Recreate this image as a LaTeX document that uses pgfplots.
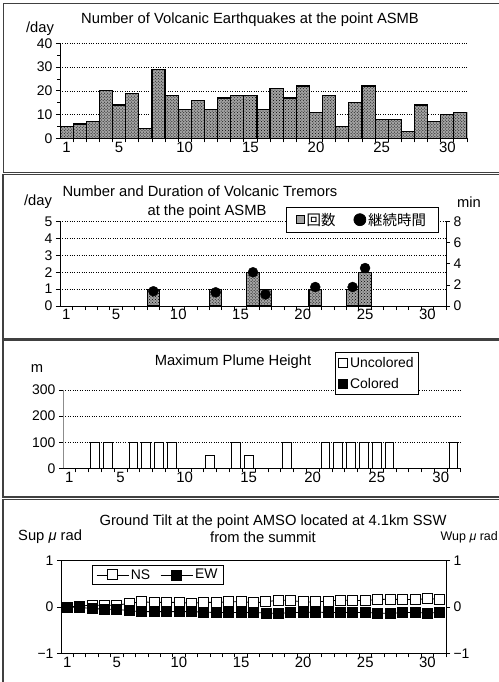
\documentclass[border=0pt]{standalone}
\usepackage{pgfplots}
\usepackage{pgfplotstable}
\pgfplotsset{compat=1.18}
\usepackage{fontspec}
\setmainfont{Liberation Sans}
\newfontfamily\cjk{Noto Sans CJK JP}
\usetikzlibrary{patterns}

% daily counts of volcanic earthquakes
\pgfplotstableread{
day n
1 5
2 6
3 7
4 20
5 14
6 19
7 4
8 29
9 18
10 12
11 16
12 12
13 17
14 18
15 18
16 12
17 21
18 17
19 22
20 11
21 18
22 5
23 15
24 22
25 8
26 8
27 3
28 14
29 7
30 10
31 11
}\quakes

% tremors: number and duration (min)
\pgfplotstableread{
day n dur
8 1 1.4
13 1 1.3
16 2 3.2
17 1 1.1
21 1 1.8
24 1 1.8
25 2 3.6
}\tremors

% plume height (uncolored)
\pgfplotstableread{
day h
3 100
4 100
6 100
7 100
8 100
9 100
12 50
14 100
15 50
18 100
21 100
22 100
23 100
24 100
25 100
26 100
31 100
}\plume

% ground tilt
\pgfplotstableread{
day ns ew
1 0.00 0.00
2 0.02 -0.01
3 0.04 -0.03
4 0.04 -0.05
5 0.04 -0.05
6 0.08 -0.08
7 0.11 -0.10
8 0.10 -0.10
9 0.10 -0.10
10 0.10 -0.10
11 0.08 -0.10
12 0.10 -0.11
13 0.10 -0.12
14 0.11 -0.12
15 0.12 -0.12
16 0.09 -0.12
17 0.11 -0.13
18 0.15 -0.14
19 0.14 -0.12
20 0.11 -0.12
21 0.11 -0.11
22 0.13 -0.12
23 0.15 -0.12
24 0.14 -0.12
25 0.14 -0.12
26 0.16 -0.13
27 0.17 -0.14
28 0.16 -0.12
29 0.16 -0.12
30 0.18 -0.13
31 0.17 -0.12
}\tilt

\pgfplotsset{
  dayaxis/.style={
    scale only axis, anchor=south west,
    xmin=0.5, xmax=31.5,
    /pgf/number format/assume math mode=true,
    tick label style={font=\fontsize{14}{16}\selectfont},
    xtick={1.5,2.5,...,31.5},
    xticklabels={},
    extra x ticks={1,5,10,15,20,25,30},
    extra x tick labels={1,5,10,15,20,25,30},
    extra x tick style={major tick length=0pt},
    x tick label style={font=\fontsize{15}{17}\selectfont},
    tick align=outside, major tick length=4bp, minor tick length=2.5bp,
    tick style={black, line width=0.8pt},
    axis line style={line width=0.9pt},
    grid style={dotted, black, line width=0.6pt},
    legend style={font=\fontsize{14}{16}\selectfont, draw=black, line width=0.7pt,
      inner sep=1.5pt},
  },
  quakebar/.style={draw=black, line width=1.2pt, fill=gray!72,
    postaction={pattern=crosshatch dots, pattern color=black}},
}

\begin{document}
\begin{tikzpicture}
\useasboundingbox (0,0) rectangle (499bp,-682bp);

% panel frames
\draw[black!75, line width=0.8pt] (3bp,-3bp) rectangle (530bp,-172.5bp);
\draw[black!75, line width=1.2pt] (3bp,-174.3bp) rectangle (530bp,-339bp);
\draw[black!75, line width=1.2pt] (3bp,-340.7bp) rectangle (530bp,-497bp);
\draw[black!75, line width=1.2pt] (3bp,-499.3bp) rectangle (530bp,-690bp);

\tikzset{lbl/.style={font=\fontsize{14.8}{17}\selectfont, inner sep=0pt}}

% ---- panel 1
\node[lbl] at (250bp,-20bp) {Number of Volcanic Earthquakes at the point ASMB};
\node[lbl] at (40bp,-29bp) {/day};
\begin{axis}[dayaxis, at={(60bp,-138.3bp)}, width=407bp, height=95bp,
  ymin=0, ymax=40, ytick={0,10,...,40}, minor ytick={5,15,25,35},
  axis x line*=bottom, axis y line*=left, ymajorgrids,
  ybar, bar width=1]
\addplot[quakebar] table[x=day, y=n] {\quakes};
\end{axis}

% ---- panel 2
\node[lbl] at (200bp,-191bp) {Number and Duration of Volcanic Tremors};
\node[lbl] at (207bp,-212bp) {at the point ASMB};
\node[lbl] at (38bp,-202bp) {/day};
\node[lbl] at (469bp,-202bp) {min};
\begin{axis}[dayaxis, at={(60bp,-306bp)}, width=386bp, height=84.3bp,
  ymin=0, ymax=5, ytick={0,1,...,5},
  axis x line*=bottom, axis y line*=left, ymajorgrids,
  ybar, bar width=1]
\addplot[quakebar] table[x=day, y=n] {\tremors};
\end{axis}
\begin{axis}[scale only axis, anchor=south west, at={(60bp,-306bp)},
  width=386bp, height=84.3bp, xmin=0.5, xmax=31.5, ymin=0, ymax=8,
  ytick={0,2,...,8}, axis y line*=right, axis x line=none,
  /pgf/number format/assume math mode=true,
  tick label style={font=\fontsize{14}{16}\selectfont},
  tick align=outside, major tick length=4bp,
  tick style={black, line width=0.8pt}, axis line style={line width=0.9pt},
  legend columns=2,
  legend style={at={(0.585,1.174)}, anchor=north west,
    font=\fontsize{14.5}{17}\selectfont, draw=black, line width=0.7pt,
    inner xsep=10pt, inner ysep=3.5pt,
    /tikz/every even column/.append style={column sep=16pt}},
  legend cell align=left]
\addlegendimage{legend image code/.code={
  \draw[black, line width=0.6pt, fill=gray!72] (0bp,-4bp) rectangle (8bp,4bp);}}
\addlegendentry{\cjk 回数}
\addplot[only marks, mark=*, mark size=5bp, black,
  legend image code/.code={\fill[black] (6bp,0bp) circle (6bp);}]
  table[x=day, y=dur] {\tremors};
\addlegendentry{\cjk 継続時間}
\end{axis}

% ---- panel 3
\node[lbl] at (233bp,-362bp) {Maximum Plume Height};
\node[lbl] at (37bp,-369bp) {m};
\begin{axis}[dayaxis, at={(63bp,-468.3bp)}, width=397bp, height=78.3bp,
  ymin=0, ymax=300, ytick={0,100,200,300},
  axis x line*=bottom, axis y line*=left, ymajorgrids,
  y axis line style={black!45},
  ybar, bar width=0.68,
  legend style={at={(0.685,1.485)}, anchor=north west, inner xsep=3pt,
    inner ysep=3pt, row sep=5pt},
  legend cell align=left]
\addplot[draw=black, line width=1pt, fill=white, bar shift=0pt,
  legend image code/.code={
  \draw[black, line width=0.9pt, fill=white] (0bp,-4.5bp) rectangle (9bp,4.5bp);}]
  table[x=day, y=h] {\plume};
\addlegendentry{Uncolored}
\addlegendimage{legend image code/.code={
  \draw[black, line width=0.9pt, fill=black] (0bp,-4.5bp) rectangle (9bp,4.5bp);}}
\addlegendentry{Colored}
\end{axis}

% ---- panel 4
\node[lbl] at (273bp,-522bp) {Ground Tilt at the point AMSO located at 4.1km SSW};
\node[lbl] at (263bp,-537bp) {from the summit};
\node[lbl, anchor=west] at (18bp,-537bp) {Sup \textit{μ} rad};
\node[lbl, anchor=east, font=\fontsize{12.5}{15}\selectfont] at (498bp,-537bp) {Wup \textit{μ} rad};
\begin{axis}[dayaxis, at={(61bp,-653.3bp)}, width=385bp, height=92.6bp,
  ymin=-1, ymax=1, ytick={-1,0,1}, yticklabels={−1,0,1},
  xtick pos=left, ytick pos=both,
  legend columns=2,
  legend style={at={(0.08,0.954)}, anchor=north west, inner xsep=4pt,
    inner ysep=2pt, /tikz/every even column/.append style={column sep=8pt}}]
\addplot[black, line width=0.8pt, mark=square*, mark size=5bp,
  mark options={fill=white, line width=0.9pt},
  legend image code/.code={
    \draw[black, line width=0.8pt] (0bp,0bp) -- (32bp,0bp);
    \draw[black, line width=0.9pt, fill=white] (11bp,-5bp) rectangle (21bp,5bp);}]
  table[x=day, y=ns] {\tilt};
\addlegendentry{NS}
\addplot[black, line width=0.8pt, mark=square*, mark size=5bp,
  mark options={fill=black},
  legend image code/.code={
    \draw[black, line width=0.8pt] (0bp,0bp) -- (32bp,0bp);
    \fill[black] (11bp,-5bp) rectangle (21bp,5bp);}]
  table[x=day, y=ew] {\tilt};
\addlegendentry{EW}
\end{axis}
\begin{axis}[scale only axis, anchor=south west, at={(61bp,-653.3bp)},
  width=385bp, height=92.6bp, xmin=0.5, xmax=31.5, ymin=-1, ymax=1,
  ytick={-1,0,1}, yticklabels={−1,0,1},
  axis y line*=right, axis x line=none,
  tick label style={font=\fontsize{14}{16}\selectfont},
  tick align=outside, major tick length=4bp,
  tick style={black, line width=0.8pt}, axis line style={line width=0.9pt}]
\addplot[draw=none] coordinates {(1,0)};
\end{axis}
\end{tikzpicture}
\end{document}
